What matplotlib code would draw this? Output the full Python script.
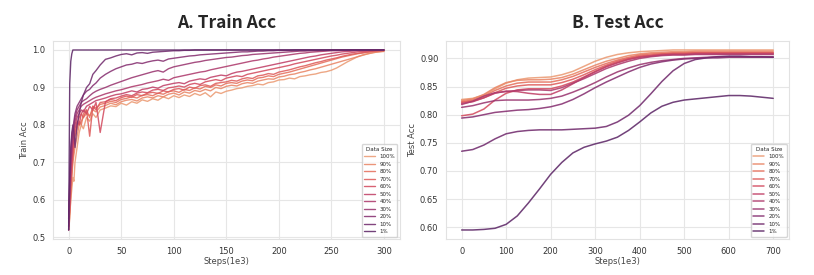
import matplotlib
matplotlib.use("Agg")
import matplotlib.pyplot as plt
import seaborn as sns

sns.set_style("whitegrid", {"grid.color": "#e6e6e6", "axes.edgecolor": "#e2e2e2"})
plt.rcParams['font.family'] = ['DejaVu Sans']

labels = ["100%", "90%", "80%", "70%", "60%", "50%", "40%", "30%", "20%", "10%", "1%"]

train_steps = [0, 1, 2, 3, 4, 5, 6, 8, 10, 12, 14, 17, 20, 23, 26, 30,
               35, 40, 45, 50, 55, 60, 65, 70, 75, 80,
               85, 90, 95, 100, 105, 110, 115, 120, 125, 130,
               135, 140, 145, 150, 155, 160, 165, 170, 175, 180,
               185, 190, 195, 200, 205, 210, 215, 220, 225, 230,
               235, 240, 245, 250, 255, 260, 265, 270, 275, 280,
               285, 290, 295, 300]

train_100 = [0.53, 0.56, 0.60, 0.63, 0.66, 0.65, 0.70, 0.74, 0.78, 0.80, 0.79, 0.82, 0.81, 0.83, 0.82, 0.84,
             0.845, 0.851, 0.849, 0.858, 0.853, 0.862, 0.858, 0.867, 0.863, 0.870,
             0.866, 0.875, 0.870, 0.878, 0.873, 0.880, 0.876, 0.884, 0.879, 0.886,
             0.875, 0.888, 0.884, 0.890, 0.893, 0.897, 0.899, 0.903, 0.905, 0.909,
             0.907, 0.913, 0.915, 0.920, 0.921, 0.925, 0.923, 0.929, 0.931, 0.934,
             0.936, 0.940, 0.942, 0.946, 0.952, 0.960, 0.968, 0.975, 0.982, 0.987,
             0.990, 0.993, 0.995, 0.996]
train_90 = [0.52, 0.55, 0.61, 0.66, 0.70, 0.72, 0.74, 0.77, 0.80, 0.81, 0.82, 0.83, 0.825, 0.84, 0.835, 0.848,
            0.852, 0.858, 0.854, 0.862, 0.866, 0.868, 0.864, 0.872, 0.875, 0.872,
            0.878, 0.875, 0.882, 0.885, 0.880, 0.888, 0.885, 0.892, 0.889, 0.895,
            0.891, 0.900, 0.897, 0.903, 0.906, 0.904, 0.910, 0.913, 0.911, 0.917,
            0.920, 0.923, 0.922, 0.928, 0.930, 0.934, 0.936, 0.940, 0.943, 0.947,
            0.950, 0.954, 0.958, 0.962, 0.966, 0.970, 0.974, 0.978, 0.982, 0.986,
            0.990, 0.993, 0.995, 0.997]
train_80 = [0.54, 0.57, 0.62, 0.67, 0.71, 0.74, 0.77, 0.79, 0.81, 0.80, 0.83, 0.84, 0.82, 0.85, 0.845, 0.855,
            0.858, 0.863, 0.860, 0.868, 0.871, 0.875, 0.872, 0.879, 0.881, 0.878,
            0.885, 0.882, 0.889, 0.891, 0.887, 0.895, 0.892, 0.899, 0.896, 0.903,
            0.900, 0.907, 0.904, 0.911, 0.913, 0.911, 0.917, 0.920, 0.918, 0.925,
            0.927, 0.931, 0.929, 0.935, 0.938, 0.941, 0.945, 0.949, 0.953, 0.957,
            0.961, 0.965, 0.969, 0.973, 0.977, 0.981, 0.984, 0.987, 0.990, 0.992,
            0.994, 0.996, 0.997, 0.998]
train_70 = [0.53, 0.58, 0.64, 0.69, 0.72, 0.76, 0.78, 0.80, 0.82, 0.83, 0.82, 0.84, 0.77, 0.85, 0.84, 0.86,
            0.862, 0.868, 0.865, 0.873, 0.877, 0.874, 0.881, 0.878, 0.885, 0.887,
            0.884, 0.891, 0.888, 0.895, 0.897, 0.893, 0.901, 0.898, 0.905, 0.907,
            0.903, 0.911, 0.913, 0.915, 0.919, 0.917, 0.923, 0.926, 0.924, 0.931,
            0.933, 0.937, 0.935, 0.941, 0.944, 0.947, 0.951, 0.955, 0.958, 0.962,
            0.966, 0.969, 0.973, 0.976, 0.979, 0.983, 0.986, 0.989, 0.991, 0.993,
            0.995, 0.997, 0.998, 0.999]
train_60 = [0.55, 0.60, 0.66, 0.70, 0.74, 0.77, 0.79, 0.81, 0.80, 0.83, 0.84, 0.83, 0.85, 0.84, 0.86, 0.78,
            0.862, 0.870, 0.872, 0.877, 0.881, 0.878, 0.885, 0.888, 0.886, 0.893,
            0.895, 0.892, 0.899, 0.901, 0.904, 0.901, 0.908, 0.911, 0.908, 0.915,
            0.918, 0.921, 0.918, 0.925, 0.928, 0.931, 0.929, 0.935, 0.938, 0.941,
            0.944, 0.947, 0.950, 0.953, 0.956, 0.959, 0.963, 0.966, 0.969, 0.972,
            0.975, 0.978, 0.981, 0.984, 0.986, 0.989, 0.991, 0.993, 0.995, 0.996,
            0.997, 0.998, 0.999, 0.999]
train_50 = [0.52, 0.59, 0.67, 0.72, 0.75, 0.78, 0.80, 0.82, 0.83, 0.84, 0.835, 0.85, 0.855, 0.86, 0.865, 0.868,
            0.872, 0.877, 0.881, 0.883, 0.887, 0.891, 0.888, 0.895, 0.897, 0.901,
            0.898, 0.905, 0.908, 0.911, 0.913, 0.910, 0.917, 0.920, 0.923, 0.921,
            0.927, 0.930, 0.933, 0.931, 0.937, 0.941, 0.943, 0.946, 0.949, 0.952,
            0.955, 0.958, 0.961, 0.964, 0.967, 0.970, 0.973, 0.976, 0.979, 0.982,
            0.984, 0.987, 0.989, 0.991, 0.993, 0.995, 0.996, 0.997, 0.998, 0.998,
            0.999, 0.999, 1.0, 1.0]
train_40 = [0.54, 0.62, 0.69, 0.73, 0.77, 0.79, 0.81, 0.83, 0.84, 0.85, 0.855, 0.86, 0.865, 0.87, 0.874, 0.878,
            0.883, 0.887, 0.891, 0.894, 0.898, 0.902, 0.905, 0.908, 0.912, 0.915,
            0.918, 0.922, 0.919, 0.926, 0.929, 0.932, 0.935, 0.938, 0.941, 0.943,
            0.947, 0.950, 0.953, 0.956, 0.959, 0.962, 0.965, 0.968, 0.971, 0.973,
            0.976, 0.978, 0.981, 0.983, 0.985, 0.987, 0.989, 0.991, 0.992, 0.994,
            0.995, 0.996, 0.997, 0.998, 0.998, 0.999, 0.999, 1.0, 1.0, 1.0,
            1.0, 1.0, 1.0, 1.0]
train_30 = [0.53, 0.63, 0.71, 0.75, 0.78, 0.80, 0.82, 0.84, 0.85, 0.86, 0.865, 0.87, 0.878, 0.885, 0.89, 0.895,
            0.900, 0.906, 0.911, 0.916, 0.921, 0.926, 0.930, 0.934, 0.938, 0.942,
            0.945, 0.941, 0.950, 0.955, 0.958, 0.961, 0.964, 0.967, 0.969, 0.972,
            0.974, 0.976, 0.978, 0.980, 0.981, 0.983, 0.985, 0.986, 0.988, 0.989,
            0.990, 0.991, 0.992, 0.993, 0.994, 0.995, 0.996, 0.997, 0.997, 0.998,
            0.998, 0.999, 0.999, 1.0, 1.0, 1.0, 1.0, 1.0, 1.0, 1.0,
            1.0, 1.0, 1.0, 1.0]
train_20 = [0.55, 0.65, 0.73, 0.77, 0.79, 0.81, 0.83, 0.85, 0.86, 0.87, 0.88, 0.89, 0.895, 0.905, 0.912, 0.925,
            0.935, 0.943, 0.950, 0.955, 0.960, 0.962, 0.966, 0.964, 0.968, 0.971,
            0.973, 0.970, 0.976, 0.978, 0.980, 0.982, 0.984, 0.985, 0.987, 0.988,
            0.989, 0.990, 0.991, 0.992, 0.993, 0.994, 0.995, 0.995, 0.996, 0.997,
            0.997, 0.998, 0.998, 0.999, 0.999, 0.999, 1.0, 1.0, 1.0, 1.0,
            1.0, 1.0, 1.0, 1.0, 1.0, 1.0, 1.0, 1.0, 1.0, 1.0,
            1.0, 1.0, 1.0, 1.0]
train_10 = [0.52, 0.66, 0.74, 0.78, 0.80, 0.78, 0.74, 0.80, 0.83, 0.86, 0.88, 0.90, 0.91, 0.935, 0.945, 0.96,
            0.975, 0.979, 0.984, 0.988, 0.990, 0.987, 0.992, 0.993, 0.991, 0.994,
            0.995, 0.996, 0.997, 0.998, 0.998, 0.999, 0.999, 1.0, 1.0, 1.0,
            1.0, 1.0, 1.0, 1.0, 1.0, 1.0, 1.0, 1.0, 1.0, 1.0,
            1.0, 1.0, 1.0, 1.0, 1.0, 1.0, 1.0, 1.0, 1.0, 1.0,
            1.0, 1.0, 1.0, 1.0, 1.0, 1.0, 1.0, 1.0, 1.0, 1.0,
            1.0, 1.0, 1.0, 1.0]
train_1 = [0.52, 0.91, 0.97, 0.99, 1.0, 1.0, 1.0, 1.0, 1.0, 1.0, 1.0, 1.0, 1.0, 1.0, 1.0, 1.0,
           1.0, 1.0, 1.0, 1.0, 1.0, 1.0, 1.0, 1.0, 1.0, 1.0,
           1.0, 1.0, 1.0, 1.0, 1.0, 1.0, 1.0, 1.0, 1.0, 1.0,
           1.0, 1.0, 1.0, 1.0, 1.0, 1.0, 1.0, 1.0, 1.0, 1.0,
           1.0, 1.0, 1.0, 1.0, 1.0, 1.0, 1.0, 1.0, 1.0, 1.0,
           1.0, 1.0, 1.0, 1.0, 1.0, 1.0, 1.0, 1.0, 1.0, 1.0,
           1.0, 1.0, 1.0, 1.0]

test_steps = [0, 25, 50, 75, 100, 125, 150, 175, 200, 225, 250, 275, 300, 325, 350,
              375, 400, 425, 450, 475, 500, 525, 550, 575, 600, 625, 650, 675, 700]

test_100 = [0.827, 0.829, 0.835, 0.846, 0.856, 0.862, 0.865, 0.866, 0.867, 0.871, 0.877, 0.886, 0.895, 0.902, 0.907,
            0.910, 0.912, 0.913, 0.914, 0.915, 0.915, 0.915, 0.915, 0.915, 0.915, 0.915, 0.915, 0.915, 0.915]
test_90 = [0.825, 0.828, 0.836, 0.848, 0.857, 0.861, 0.862, 0.862, 0.863, 0.866, 0.872, 0.880, 0.888, 0.895, 0.900,
           0.905, 0.908, 0.910, 0.911, 0.912, 0.912, 0.913, 0.913, 0.913, 0.913, 0.913, 0.913, 0.913, 0.913]
test_80 = [0.823, 0.826, 0.833, 0.843, 0.851, 0.856, 0.858, 0.858, 0.858, 0.862, 0.868, 0.876, 0.884, 0.891, 0.897,
           0.902, 0.906, 0.908, 0.909, 0.910, 0.910, 0.911, 0.911, 0.911, 0.911, 0.911, 0.911, 0.911, 0.911]
test_70 = [0.822, 0.824, 0.830, 0.839, 0.847, 0.851, 0.853, 0.853, 0.853, 0.857, 0.863, 0.871, 0.880, 0.888, 0.895,
           0.900, 0.904, 0.906, 0.908, 0.909, 0.909, 0.910, 0.910, 0.910, 0.910, 0.910, 0.910, 0.910, 0.910]
test_60 = [0.798, 0.801, 0.810, 0.826, 0.838, 0.844, 0.846, 0.846, 0.846, 0.851, 0.858, 0.867, 0.877, 0.886, 0.893,
           0.899, 0.903, 0.905, 0.907, 0.908, 0.908, 0.909, 0.909, 0.909, 0.909, 0.909, 0.909, 0.909, 0.909]
test_50 = [0.820, 0.823, 0.830, 0.838, 0.842, 0.841, 0.838, 0.836, 0.836, 0.844, 0.855, 0.866, 0.876, 0.885, 0.892,
           0.898, 0.902, 0.904, 0.906, 0.907, 0.907, 0.908, 0.908, 0.908, 0.908, 0.908, 0.908, 0.908, 0.908]
test_40 = [0.818, 0.824, 0.833, 0.839, 0.841, 0.843, 0.844, 0.844, 0.843, 0.848, 0.856, 0.864, 0.873, 0.882, 0.889,
           0.895, 0.900, 0.903, 0.905, 0.906, 0.906, 0.907, 0.907, 0.907, 0.907, 0.907, 0.907, 0.907, 0.907]
test_30 = [0.813, 0.816, 0.821, 0.825, 0.826, 0.826, 0.826, 0.827, 0.829, 0.833, 0.840, 0.848, 0.857, 0.867, 0.876,
           0.883, 0.889, 0.893, 0.896, 0.898, 0.900, 0.901, 0.902, 0.903, 0.903, 0.903, 0.903, 0.903, 0.903]
test_20 = [0.794, 0.796, 0.800, 0.804, 0.806, 0.808, 0.809, 0.811, 0.814, 0.819, 0.827, 0.837, 0.848, 0.858, 0.867,
           0.876, 0.884, 0.890, 0.894, 0.897, 0.899, 0.900, 0.901, 0.901, 0.902, 0.902, 0.902, 0.902, 0.902]
test_10 = [0.735, 0.738, 0.746, 0.757, 0.766, 0.770, 0.772, 0.773, 0.773, 0.773, 0.774, 0.775, 0.776, 0.779, 0.787,
           0.799, 0.816, 0.837, 0.859, 0.878, 0.891, 0.898, 0.901, 0.903, 0.904, 0.904, 0.903, 0.903, 0.902]
test_1 = [0.595, 0.595, 0.596, 0.598, 0.605, 0.620, 0.643, 0.668, 0.694, 0.715, 0.732, 0.742, 0.748, 0.753, 0.760,
          0.772, 0.787, 0.803, 0.815, 0.822, 0.826, 0.828, 0.830, 0.832, 0.834, 0.834, 0.833, 0.831, 0.829]

train_series = [train_100, train_90, train_80, train_70, train_60, train_50,
                train_40, train_30, train_20, train_10, train_1]
test_series = [test_100, test_90, test_80, test_70, test_60, test_50,
               test_40, test_30, test_20, test_10, test_1]

colors = sns.color_palette("flare", len(labels))

fig = plt.figure(figsize=(8.14, 2.75), dpi=100)
ax1 = fig.add_axes([0.065, 0.131, 0.426, 0.720])
ax2 = fig.add_axes([0.548, 0.131, 0.421, 0.720])

for ys, c, lab in zip(train_series, colors, labels):
    ax1.plot(train_steps, ys, color=c, lw=1.0, alpha=0.88, label=lab)
for ys, c, lab in zip(test_series, colors, labels):
    ax2.plot(test_steps, ys, color=c, lw=1.1, alpha=0.88, label=lab)

title_font = dict(family=['Noto Sans CJK SC', 'DejaVu Sans'], weight='bold', size=12.5)
ax1.set_title("A. Train Acc", fontdict=title_font, pad=9)
ax2.set_title("B. Test Acc", fontdict=title_font, pad=9)

ax1.set_xlabel("Steps(1e3)", fontsize=6, labelpad=1, color="#444444")
ax1.set_ylabel("Train Acc", fontsize=6, labelpad=2, color="#444444")
ax2.set_xlabel("Steps(1e3)", fontsize=6, labelpad=1, color="#444444")
ax2.set_ylabel("Test Acc", fontsize=6, labelpad=2, color="#444444")

ax1.set_xticks([0, 50, 100, 150, 200, 250, 300])
ax1.set_yticks([0.5, 0.6, 0.7, 0.8, 0.9, 1.0])
ax2.set_xticks([0, 100, 200, 300, 400, 500, 600, 700])
ax2.set_yticks([0.60, 0.65, 0.70, 0.75, 0.80, 0.85, 0.90])
ax2.set_yticklabels(["0.60", "0.65", "0.70", "0.75", "0.80", "0.85", "0.90"])

for ax in (ax1, ax2):
    ax.tick_params(labelsize=6, pad=2, labelcolor="#333333")
    ax.margins(x=0.05, y=0.05)
    ax.legend(title="Data Size", loc="lower right", fontsize=4.0, title_fontsize=4.0,
              handlelength=1.9, labelspacing=0.45, borderpad=0.45, frameon=True,
              borderaxespad=0.4)

fig.savefig("out.png", dpi=100)
